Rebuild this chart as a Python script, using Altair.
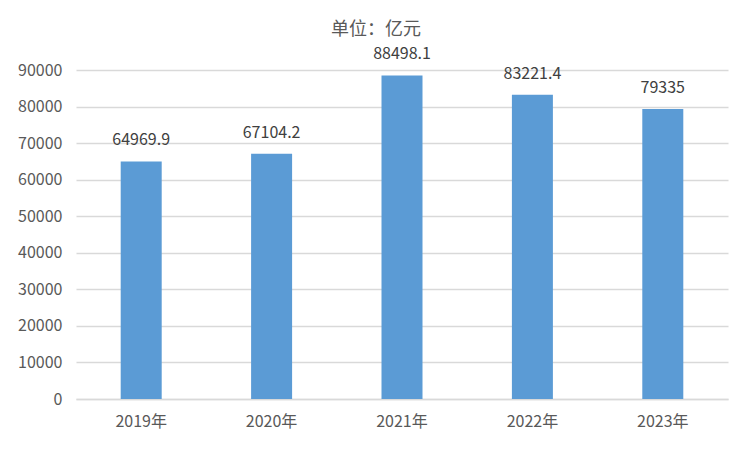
import altair as alt
import pandas as pd

years = ["2019年", "2020年", "2021年", "2022年", "2023年"]
values = [64969.9, 67104.2, 88498.1, 83221.4, 79335]
labels = ["64969.9", "67104.2", "88498.1", "83221.4", "79335"]

df = pd.DataFrame({"year": years, "value": values, "label": labels})

FONT = "Noto Sans CJK SC"

base = alt.Chart(df).encode(
    x=alt.X("year:N", sort=years, title=None,
            scale=alt.Scale(paddingInner=0, paddingOuter=0),
            axis=alt.Axis(labelAngle=0, labelFontSize=16, labelColor="#595959",
                          labelFont=FONT, labelPadding=14, ticks=False,
                          domainColor="#d9d9d9", domainWidth=1.3)),
    y=alt.Y("value:Q", title=None,
            scale=alt.Scale(domain=[0, 90000], nice=False),
            axis=alt.Axis(values=list(range(0, 90001, 10000)), labelFontSize=16,
                          labelColor="#595959", labelFont=FONT, labelPadding=14,
                          ticks=False, domain=False, gridColor="#d9d9d9",
                          gridWidth=1.3, format="d")),
)

bars = base.mark_bar(width=41, color="#5B9BD5")
text = base.mark_text(dy=-13, baseline="bottom", fontSize=16, color="#404040",
                      font=FONT).encode(text="label:N")

chart = (bars + text).properties(
    width=652, height=329,
    autosize=alt.AutoSizeParams(type="none"),
    padding={"left": 68, "top": 62, "right": 16, "bottom": 45},
    background="white",
    title=alt.TitleParams("单位：亿元", fontSize=18, color="#595959", font=FONT,
                          fontWeight="normal", dx=-26, offset=7, anchor="middle"),
).configure_view(stroke=None)

chart.save("out.html", embed_options={"renderer": "svg", "actions": False})
